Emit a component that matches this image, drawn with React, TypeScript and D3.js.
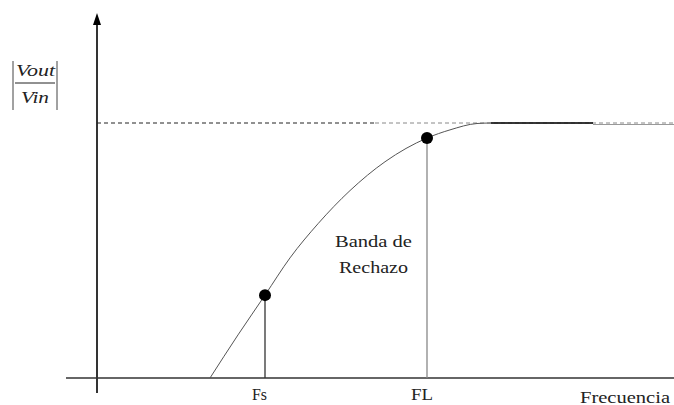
import React from "react";
import * as d3 from "d3";

// Schematic response curve (frequency units arbitrary, magnitude normalised to passband = 1)
const freq = [113, 141, 168, 193, 221, 253, 288, 330, 353, 380, 394, 496];
const mag = [0, 0.169, 0.325, 0.471, 0.605, 0.735, 0.848, 0.941, 0.973, 0.998, 1.0, 1.0];
const markerNames = ["Fs", "FL"];
const markerFreq = [168, 330];
const markerMag = [0.325, 0.941];
const passbandLevel = 1.0;
const xLabel = "Frecuencia";
const bandLabel = ["Banda de", "Rechazo"];

const W = 674;
const H = 405;

export default function App() {
  const x = d3.scaleLinear().domain([0, 577]).range([97, 674]);
  const y = d3.scaleLinear().domain([0, 1]).range([378, 123]);
  const pts: [number, number][] = freq.map((f, i) => [f, mag[i]]);
  const curve = d3
    .line<[number, number]>()
    .x((d) => x(d[0]))
    .y((d) => y(d[1]))
    .curve(d3.curveMonotoneX);
  const serif = "'Liberation Serif', 'DejaVu Serif', serif";
  return (
    <svg
      width={W}
      height={H}
      style={{ position: "absolute", left: 0, top: 0, background: "#fff" }}
    >
      {/* y axis with arrow */}
      <line x1={x(0)} x2={x(0)} y1={22} y2={393} stroke="#000" strokeWidth={1.6} />
      <path d={`M${x(0)},13 L${x(0) - 4},25 L${x(0) + 4},25 Z`} fill="#000" />
      {/* x axis */}
      <line x1={66} x2={W} y1={y(0)} y2={y(0)} stroke="#333" strokeWidth={1.6} />
      {/* passband dashed level */}
      <line
        x1={x(0)}
        x2={375}
        y1={y(passbandLevel)}
        y2={y(passbandLevel)}
        stroke="#222"
        strokeWidth={1}
        strokeDasharray="4,3"
      />
      <line
        x1={375}
        x2={W}
        y1={y(passbandLevel)}
        y2={y(passbandLevel)}
        stroke="#888"
        strokeWidth={1}
        strokeDasharray="4,3"
      />
      {/* curve */}
      <path d={curve(pts) || ""} fill="none" stroke="#555" strokeWidth={1} />
      <line
        x1={x(394)}
        x2={x(496)}
        y1={y(passbandLevel)}
        y2={y(passbandLevel)}
        stroke="#111"
        strokeWidth={1.6}
      />
      <line
        x1={x(496)}
        x2={W}
        y1={y(passbandLevel) + 1.5}
        y2={y(passbandLevel) + 1.5}
        stroke="#999"
        strokeWidth={1.2}
      />
      {/* markers */}
      {markerFreq.map((f, i) => (
        <g key={markerNames[i]}>
          <line
            x1={x(f)}
            x2={x(f)}
            y1={y(markerMag[i])}
            y2={y(0)}
            stroke={i === 0 ? "#333" : "#888"}
            strokeWidth={1.3}
          />
          <circle cx={x(f)} cy={y(markerMag[i])} r={6} fill="#000" />
        </g>
      ))}
      {/* tick labels */}
      <text
        x={252}
        y={400}
        fontFamily={serif}
        fontSize={16}
        fill="#222"
        textLength={15}
        lengthAdjust="spacingAndGlyphs"
      >
        {markerNames[0]}
      </text>
      <text
        x={411}
        y={400}
        fontFamily={serif}
        fontSize={16}
        fill="#222"
        textLength={22}
        lengthAdjust="spacingAndGlyphs"
      >
        {markerNames[1]}
      </text>
      <text
        x={580}
        y={403}
        fontFamily={serif}
        fontSize={16}
        fill="#222"
        textLength={90}
        lengthAdjust="spacingAndGlyphs"
      >
        {xLabel}
      </text>
      {/* band label */}
      <text
        x={335}
        y={247}
        fontFamily={serif}
        fontSize={16}
        fill="#222"
        textLength={77}
        lengthAdjust="spacingAndGlyphs"
      >
        {bandLabel[0]}
      </text>
      <text
        x={339}
        y={273}
        fontFamily={serif}
        fontSize={16}
        fill="#222"
        textLength={69}
        lengthAdjust="spacingAndGlyphs"
      >
        {bandLabel[1]}
      </text>
      {/* y label |Vout/Vin| */}
      <line x1={13} x2={13} y1={61} y2={110} stroke="#444" strokeWidth={1} />
      <line x1={57} x2={57} y1={61} y2={110} stroke="#444" strokeWidth={1} />
      <text
        x={16}
        y={76}
        fontFamily={serif}
        fontStyle="italic"
        fontSize={16}
        fill="#222"
        textLength={39}
        lengthAdjust="spacingAndGlyphs"
      >
        Vout
      </text>
      <line x1={15} x2={55} y1={83} y2={83} stroke="#222" strokeWidth={1} />
      <text
        x={21}
        y={103}
        fontFamily={serif}
        fontStyle="italic"
        fontSize={16}
        fill="#222"
        textLength={28}
        lengthAdjust="spacingAndGlyphs"
      >
        Vin
      </text>
    </svg>
  );
}
